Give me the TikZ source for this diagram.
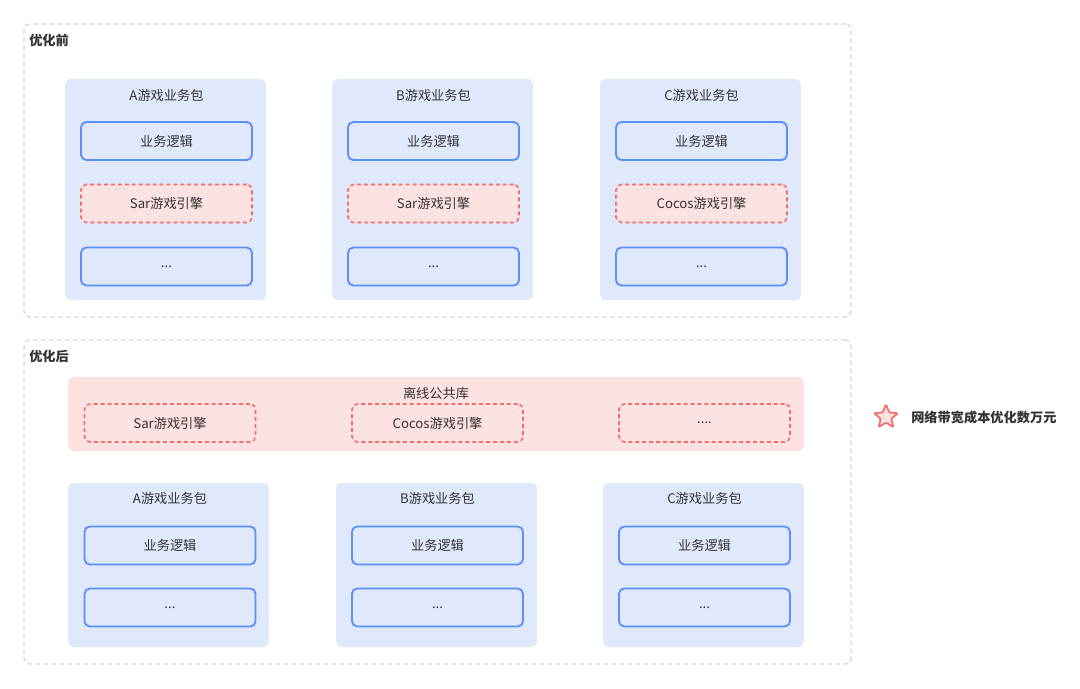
\documentclass[tikz,border=0pt]{standalone}
\usepackage{fontspec}
\setmainfont{Noto Sans CJK SC}
\usetikzlibrary{shapes.geometric}
\definecolor{pkgblue}{HTML}{E0E9FC}
\definecolor{bdblue}{HTML}{5B8FF9}
\definecolor{pinkfill}{HTML}{FDE2E2}
\definecolor{reddash}{HTML}{F46C6C}
\definecolor{grayline}{HTML}{D4D4D4}
\definecolor{txt}{HTML}{333333}
\tikzset{
  outer/.style={draw=grayline, line width=0.9pt, dash pattern=on 3.5pt off 2.5pt, rounded corners=4pt, inner sep=0pt, minimum width=620.25pt, minimum height=#1},
  pkg/.style={fill=pkgblue, rounded corners=4pt, inner sep=0pt, minimum width=150.75pt, minimum height=#1},
  band/.style={fill=pinkfill, rounded corners=4pt, inner sep=0pt, minimum width=552pt, minimum height=55.5pt},
  solidbox/.style={draw=bdblue, fill=pkgblue, line width=1.4pt, rounded corners=4pt, inner sep=0pt, minimum width=128.25pt, minimum height=28.5pt, font=\fontsize{9.9}{11}\selectfont, text=txt},
  dashbox/.style={draw=reddash, fill=pinkfill, line width=1.2pt, dash pattern=on 3pt off 2.2pt, rounded corners=4pt, inner sep=0pt, minimum width=128.25pt, minimum height=28.5pt, font=\fontsize{9.9}{11}\selectfont, text=txt},
  title/.style={font=\fontsize{9.9}{11}\selectfont, text=txt, inner sep=0pt},
  head/.style={font=\fontsize{9.9}{11}\selectfont\bfseries, text=txt, inner sep=0pt, anchor=west},
}
\begin{document}
\begin{tikzpicture}[x=0.75pt,y=-0.75pt]
\useasboundingbox (0,0) rectangle (1080,688);
\fill[white] (0,0) rectangle (1080,688);
% outer groups
\node[outer=219.75pt] (before) at (437.5,170.5) {};
\node[outer=243pt] (after) at (437.5,502) {};
\node[head] (beforelbl) at (29,40) {优化前};
\node[head] (afterlbl) at (29,356) {优化后};
% top packages
\foreach \n/\px/\bx/\nm/\eng in {a/165.5/166.5/A/Sar, b/432.5/433.5/B/Sar, c/700.5/701.5/C/Cocos}{
  \node[pkg=165.75pt] (tp\n) at (\px,189.5) {};
  \node[title] (tt\n) at (\bx,95.5) {\nm 游戏业务包};
  \node[solidbox] (tl\n) at (\bx,141) {业务逻辑};
  \node[dashbox] (te\n) at (\bx,203.5) {\eng 游戏引擎};
  \node[solidbox] (td\n) at (\bx,266.5) {...};
}
% shared library band
\node[band] (lib) at (436,414) {};
\node[title] (libt) at (436,393.5) {离线公共库};
\node[dashbox] (lsar) at (170,423) {Sar游戏引擎};
\node[dashbox] (lcocos) at (437.5,423) {Cocos游戏引擎};
\node[dashbox] (lmore) at (704.5,423) {....};
% lower packages
\foreach \n/\px/\bx/\nm in {a/168.5/170/A, b/436.5/437.5/B, c/703.5/704.5/C}{
  \node[pkg=123pt] (bp\n) at (\px,565) {};
  \node[title] (bt\n) at (\bx,498.5) {\nm 游戏业务包};
  \node[solidbox] (bl\n) at (\bx,545.5) {业务逻辑};
  \node[solidbox] (bd\n) at (\bx,607.5) {...};
}
% note
\node[star, star points=5, star point ratio=2.3, draw=reddash, fill=pinkfill, line width=1.3pt, rounded corners=1pt, minimum size=19pt, inner sep=0pt] (star) at (886,417) {};
\node[head] (note) at (911,417) {网络带宽成本优化数万元};
\end{tikzpicture}
\end{document}
